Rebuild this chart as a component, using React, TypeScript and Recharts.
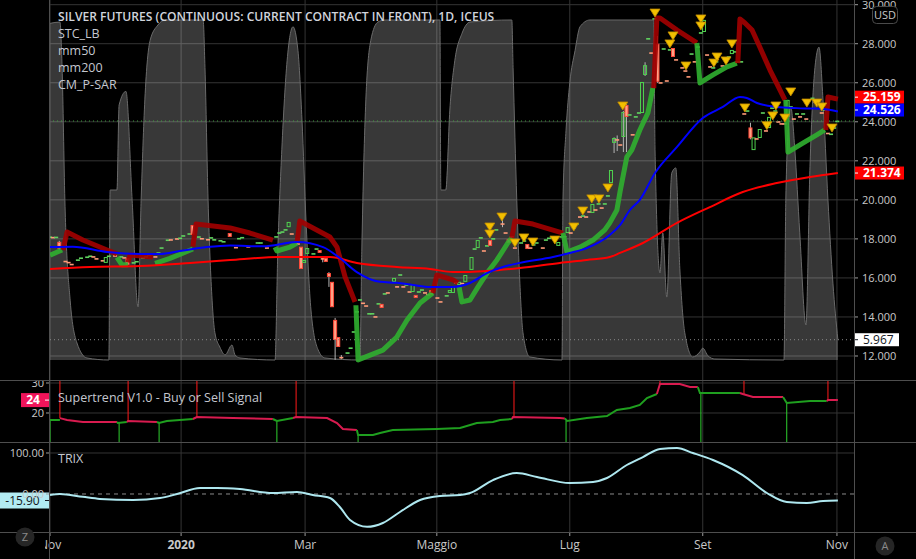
import React from 'react';
import { ComposedChart, Line, Area, Bar, XAxis, YAxis, CartesianGrid, ReferenceLine } from 'recharts';

const FONT = "'Open Sans', 'Noto Sans', sans-serif";

// x = trading-bar index counted from the first bar of November 2019
const monthTicks = [0, 42.3, 82.3, 124.8, 167.7, 210.6, 253.9];
const monthLabels = ['Nov', '2020', 'Mar', 'Maggio', 'Lug', 'Set', 'Nov'];
const priceTicks = [12, 14, 16, 18, 20, 22, 24, 26, 28, 30];
const supertrendTicks = [20, 30];
const trixTicks = [0, 100];

// [bar, open, close, high?, low?]
const candles: number[][] = [
  [0, 18.05, 18.12], [1, 18.1, 18.03], [2, 18.05, 18.1], [3, 17.85, 17.5, 17.9, 17.45], [5, 16.88, 16.8],
  [6, 16.82, 16.75], [7, 16.72, 16.65], [9, 16.88, 16.94], [10, 16.98, 17.04], [12, 17.03, 17.09],
  [13, 17.08, 17.14], [14, 17.1, 17.05], [15, 17.0, 16.95], [17, 16.9, 16.85], [18, 16.77, 17.07],
  [19, 17.08, 17.14], [21, 17.15, 17.1], [23, 17.05, 17.1], [24, 17.05, 17.0], [25, 17.02, 16.67],
  [27, 16.74, 16.8], [28, 16.8, 16.86], [30, 17.0, 17.05], [31, 17.05, 17.1], [32, 17.15, 17.2],
  [34, 17.1, 17.05], [35, 17.25, 17.3], [36, 17.5, 17.56], [38, 17.9, 17.96], [39, 17.97, 17.92],
  [41, 18.02, 17.97], [42, 18.0, 18.06], [43, 18.12, 18.18], [45, 18.22, 18.28], [46, 18.71, 18.2],
  [48, 18.07, 18.12], [49, 18.03, 17.98], [51, 17.98, 17.93], [52, 18.02, 18.08], [53, 17.92, 17.98],
  [55, 17.87, 17.93], [56, 17.82, 17.88], [58, 18.3, 18.1], [60, 17.58, 17.52], [61, 17.98, 18.04],
  [62, 18.03, 18.09], [64, 17.62, 17.56], [67, 17.76, 17.82], [68, 17.76, 17.82], [70, 17.56, 17.5],
  [73, 18.07, 18.13], [74, 18.27, 18.33], [75, 18.32, 18.38], [76, 18.43, 18.49], [77, 18.6, 18.87],
  [78, 18.28, 18.22], [80, 17.77, 17.71], [81, 17.6, 16.46], [82, 16.77, 16.92], [83, 17.23, 17.53],
  [85, 17.2, 17.26], [86, 17.45, 17.51], [87, 17.43, 17.28], [88, 17.0, 16.95, 17.05, 16.8], [89, 17.02, 16.82],
  [90, 16.25, 16.05, 16.3, 15.54], [91, 15.8, 14.5], [92, 13.85, 12.82, 13.95, 11.8], [93, 12.97, 12.46],
  [94, 11.95, 11.88, 12.05, 11.85], [96, 12.12, 12.18], [97, 12.37, 12.43], [98, 13.2, 13.26], [99, 14.23, 14.29],
  [100, 14.84, 14.9], [101, 14.73, 14.67], [102, 14.59, 14.53], [103, 14.13, 14.19], [104, 14.13, 14.19],
  [105, 14.03, 13.97], [106, 14.64, 14.7], [107, 14.67, 14.46], [108, 15.15, 15.21], [109, 15.26, 15.2],
  [111, 15.8, 16.0], [112, 15.57, 15.51], [113, 16.12, 16.18], [114, 15.57, 15.51], [115, 15.61, 15.67],
  [116, 15.31, 15.25], [117, 15.28, 15.64], [118, 15.13, 14.97], [119, 15.25, 15.31], [120, 15.35, 15.41],
  [121, 15.26, 15.2], [122, 15.16, 15.1], [123, 15.38, 15.13], [125, 15.0, 14.94], [126, 14.8, 14.74],
  [128, 15.05, 15.11], [129, 15.23, 15.38], [130, 15.23, 15.54], [131, 15.77, 15.71], [132, 15.64, 15.8],
  [133, 15.74, 15.68], [134, 15.8, 16.15], [136, 16.41, 17.07], [137, 17.45, 17.51], [138, 17.53, 17.94],
  [139, 18.02, 18.08], [140, 17.41, 17.35], [141, 17.61, 17.67], [142, 17.94, 17.64], [143, 17.97, 18.03],
  [144, 18.43, 18.49], [146, 18.78, 18.74, 19.07, 18.6], [147, 18.33, 18.27], [148, 18.0, 17.79], [149, 18.13, 18.07],
  [150, 17.56, 17.5], [152, 17.76, 17.82], [153, 17.86, 17.92], [154, 17.74, 17.48], [155, 17.56, 17.5],
  [156, 17.66, 17.72], [157, 17.76, 17.82], [159, 17.56, 17.5], [160, 17.91, 17.97], [161, 18.0, 18.06],
  [162, 18.02, 18.08], [163, 17.98, 18.04], [164, 17.64, 17.84], [165, 18.07, 18.13], [166, 18.08, 18.14],
  [167, 18.3, 18.6], [168, 18.33, 18.27], [169, 18.53, 18.59], [170, 18.73, 18.79], [171, 19.15, 19.09],
  [172, 19.14, 19.2], [173, 19.15, 19.09], [174, 19.41, 19.35], [175, 19.33, 19.79], [176, 19.51, 19.45],
  [177, 19.76, 19.82], [178, 19.61, 19.55], [179, 19.76, 19.82], [180, 20.17, 20.23], [181, 20.86, 21.53],
  [182, 22.92, 23.17, 23.2, 22.4], [183, 23.1, 23.04, 23.3, 22.5], [184, 22.84, 22.78], [185, 23.22, 24.5, 24.55, 22.45],
  [186, 24.86, 24.25, 24.9, 22.45], [187, 24.32, 24.38], [188, 23.36, 23.3], [189, 24.22, 24.28], [190, 24.42, 24.48],
  [191, 24.45, 26.04], [192, 26.4, 26.9, 27.05, 26.35], [193, 28.2, 28.3], [194, 27.55, 27.49], [195, 29.24, 29.3],
  [196, 28.0, 26.05, 28.4, 26.0], [197, 26.02, 25.96], [198, 27.7, 27.76], [199, 26.12, 26.06], [200, 27.65, 27.71],
  [201, 27.78, 27.32], [202, 27.2, 27.14], [204, 26.79, 26.73], [205, 26.63, 26.57], [206, 26.33, 26.27],
  [207, 27.44, 27.5], [208, 27.12, 27.02], [209, 27.8, 27.86], [210, 28.52, 28.58], [211, 28.6, 29.22],
  [212, 27.45, 27.39], [213, 26.84, 26.78], [214, 26.73, 26.79], [215, 27.04, 27.1], [217, 26.89, 26.83],
  [218, 27.24, 27.3], [219, 27.29, 27.35], [220, 27.47, 27.68], [221, 27.55, 27.61], [222, 27.04, 27.1],
  [223, 27.04, 27.1], [224, 24.43, 24.37], [225, 24.52, 24.58], [226, 23.71, 23.15, 23.95, 23.1], [227, 22.55, 23.2],
  [228, 23.15, 23.09], [229, 23.17, 23.63], [230, 24.42, 24.48], [231, 23.56, 23.5], [232, 23.68, 24.25],
  [233, 24.67, 24.73], [234, 24.52, 24.58], [235, 24.02, 23.96], [236, 23.92, 23.86], [237, 23.92, 23.86],
  [238, 24.25, 25.12], [239, 24.73, 24.79], [240, 24.17, 24.11], [241, 24.37, 24.43], [242, 24.28, 24.22],
  [243, 24.37, 24.43], [244, 24.17, 24.11], [246, 25.17, 25.23], [247, 25.03, 24.97], [249, 24.48, 24.42],
  [250, 24.57, 24.63], [251, 23.43, 23.37], [252, 23.33, 23.39], [253, 23.65, 23.71], [254, 24.0, 24.04],
];

const stcValues: number[][] = [
  [0, 99], [3.2, 99.4], [3.9, 86], [4.8, 47], [6.5, 17.6], [8.7, 5], [11.9, 0.6], [19.0, 0], [19.4, 50], [21.6, 50],
  [22.3, 75], [24.5, 79], [26.5, 47], [28.4, 15.6], [29.4, 47], [30.6, 76.5], [32.3, 94], [34.8, 98.5], [37.1, 100],
  [49.4, 100], [50.0, 86], [51.0, 47], [52.3, 17.6], [53.2, 8], [54.8, 3.8], [56.5, 1.5], [58.7, 4.4], [59.7, 1.5],
  [61.3, 0.6], [72.6, 0], [73.5, 32], [74.8, 62], [76.5, 88], [78.4, 98], [80.0, 91], [81.3, 70.6], [82.6, 41],
  [84.2, 14.7], [86.5, 3], [88.7, 0.6], [100.0, 0], [100.6, 32], [101.9, 76.5], [103.5, 94], [105.8, 99.4],
  [108.1, 100], [125.8, 100], [126.1, 50], [127.7, 50], [129.0, 73.5], [130.6, 88], [132.9, 96], [135.5, 99.4],
  [149.0, 100], [149.4, 86], [150.6, 47], [151.6, 22.6], [152.6, 8], [154.8, 0.9], [165.2, 0], [165.5, 47],
  [166.5, 67.6], [167.7, 81.5], [169.4, 91], [171.0, 98], [174.2, 100], [194.8, 100], [195.2, 62], [196.8, 25.6],
  [197.7, 37.4], [199.0, 18.5], [200.6, 55], [201.9, 56.5], [203.2, 27], [204.8, 8], [207.4, 0.9], [209.7, 2.4],
  [210.6, 3.5], [212.3, 1.2], [214.5, 0.3], [236.8, 0], [237.4, 47], [238.4, 70.6], [239.0, 74.4], [240.3, 62],
  [241.9, 37.4], [243.9, 10.3], [245.2, 57], [246.8, 86], [248.1, 92], [249.4, 76.5], [251.0, 47], [252.6, 22.6],
  [254.2, 5.967],
];

const mm50Values: number[][] = [
  [0, 17.58], [7.4, 17.6], [18.4, 17.33], [29.0, 17.23], [35.5, 17.23], [41.9, 17.38], [50.6, 17.58], [58.1, 17.66],
  [68.7, 17.62], [79.7, 17.84], [88.1, 17.58], [93.5, 17.02], [99.0, 16.3], [106.5, 15.8], [111.9, 15.75],
  [117.1, 15.64], [122.6, 15.54], [130.0, 15.54], [135.5, 15.74], [141.0, 16.25], [146.1, 16.56], [151.6, 16.77],
  [162.3, 17.07], [167.7, 17.28], [173.2, 17.53], [180.6, 18.2], [183.9, 18.7], [187.1, 19.48], [190.3, 20.0],
  [195.2, 21.38], [202.3, 22.71], [210.6, 24.19], [217.1, 24.76], [222.6, 25.27], [224.8, 25.22], [228.1, 24.96],
  [234.5, 24.76], [241.0, 24.7], [245.2, 24.68], [249.4, 24.66], [254.2, 24.526],
];

const mm200Values: number[][] = [
  [0, 16.46], [12.9, 16.56], [29.0, 16.61], [45.2, 16.77], [58.1, 16.92], [74.2, 17.07], [90.3, 17.07],
  [99.0, 16.77], [111.9, 16.56], [122.6, 16.46], [130.0, 16.3], [141.0, 16.36], [151.6, 16.51], [164.5, 16.77],
  [173.2, 16.92], [180.6, 17.07], [183.9, 17.28], [191.3, 17.79], [202.3, 18.82], [212.9, 19.63], [223.5, 20.4],
  [234.5, 20.86], [245.2, 21.17], [254.2, 21.374],
];

const psarSegments: { trend: 'up' | 'down'; pts: number[][] }[] = [
  { trend: 'up', pts: [[0, 17.17], [3.9, 17.43]] },
  { trend: 'down', pts: [[4.2, 17.43], [5.5, 18.35], [10.6, 17.94], [18.4, 17.43], [21.6, 17.23]] },
  { trend: 'up', pts: [[21.6, 17.05], [23.2, 16.67], [25.2, 16.67]] },
  { trend: 'down', pts: [[25.2, 16.8], [25.8, 17.17], [33.2, 17.07]] },
  { trend: 'up', pts: [[33.9, 16.75], [38.7, 17.0], [46.1, 17.48]] },
  { trend: 'down', pts: [[46.1, 17.6], [47.1, 18.76], [58.1, 18.56], [64.5, 18.3], [71.9, 17.94]] },
  { trend: 'up', pts: [[72.6, 17.58], [73.2, 17.38], [77.4, 17.58], [79.7, 17.79]] },
  { trend: 'down', pts: [[79.7, 17.79], [80.6, 18.92], [90.3, 18.1], [92.6, 17.58], [95.2, 16.05], [98.4, 14.77]] },
  { trend: 'up', pts: [[98.7, 14.6], [99.4, 11.8], [107.4, 12.3], [111.9, 12.97], [115.2, 13.84], [119.4, 14.72], [123.5, 15.23]] },
  { trend: 'down', pts: [[123.5, 15.23], [124.8, 16.15], [130.0, 15.9], [131.6, 15.74]] },
  { trend: 'up', pts: [[131.9, 15.6], [132.9, 14.77], [135.5, 14.87], [138.1, 15.54], [141.0, 16.25], [144.2, 16.92], [147.7, 17.79], [149.0, 18.05]] },
  { trend: 'down', pts: [[149.0, 18.05], [150.0, 18.92], [155.8, 18.76], [165.5, 18.3]] },
  { trend: 'up', pts: [[165.5, 18.3], [166.8, 17.33], [171.0, 17.58], [175.2, 17.94], [179.0, 18.46], [180.6, 18.82], [182.9, 19.48], [183.9, 20.4], [186.1, 22.2], [187.7, 22.55], [190.3, 23.58], [192.9, 24.45], [194.5, 25.73]] },
  { trend: 'down', pts: [[194.8, 25.73], [195.8, 29.32], [196.8, 29.32], [202.3, 28.7], [208.7, 28.04]] },
  { trend: 'up', pts: [[208.7, 28.04], [209.7, 25.99], [213.9, 26.4], [218.4, 26.81], [221.6, 27.0]] },
  { trend: 'down', pts: [[221.9, 27.0], [222.6, 29.27], [224.2, 29.06], [226.5, 28.7], [229.0, 27.83], [232.3, 26.65], [235.5, 25.63], [237.1, 25.12]] },
  { trend: 'up', pts: [[237.4, 25.12], [238.1, 22.45], [242.9, 22.91], [247.4, 23.33], [250.0, 23.58]] },
  { trend: 'down', pts: [[250.3, 23.58], [251.0, 25.27], [254.2, 25.159]] },
];

const sellMarkers: number[][] = [
  [141.9, 18.61], [141.9, 18.25], [145.8, 19.12], [150.0, 17.79], [152.9, 18.05], [155.8, 17.84], [162.9, 17.94],
  [169.0, 18.61], [171.9, 19.43], [174.8, 20.05], [177.1, 20.05], [180.0, 20.61], [184.8, 24.81], [195.2, 29.57],
  [200.0, 27.99], [201.0, 28.4], [205.2, 26.86], [210.0, 29.27], [210.0, 28.91], [214.2, 27.01], [215.2, 27.32],
  [218.1, 27.12], [220.0, 27.99], [224.2, 24.71], [231.3, 23.8], [233.2, 24.3], [234.2, 24.81], [237.1, 24.19],
  [239.0, 25.53], [244.2, 24.96], [247.4, 24.96], [249.0, 24.76], [252.3, 23.68],
];

const supertrendSegments: { trend: 'up' | 'down'; pts: number[][] }[] = [
  { trend: 'up', pts: [[0, 17.67], [3.2, 17.67]] },
  { trend: 'down', pts: [[3.2, 18.3], [5.5, 17.67], [10.6, 17.0], [21.6, 17.0]] },
  { trend: 'up', pts: [[21.6, 17.0], [21.9, 16.67], [24.8, 17.0]] },
  { trend: 'down', pts: [[24.8, 17.0], [25.2, 17.33], [34.5, 17.0]] },
  { trend: 'up', pts: [[34.5, 17.0], [35.2, 16.67], [37.7, 17.33], [41.9, 17.67], [46.1, 18.0]] },
  { trend: 'down', pts: [[46.1, 18.0], [47.4, 18.67], [59.0, 18.33], [71.9, 18.0]] },
  { trend: 'up', pts: [[71.9, 18.0], [73.2, 17.33], [78.4, 18.33]] },
  { trend: 'down', pts: [[78.4, 18.33], [79.4, 18.67], [89.4, 18.33], [92.6, 16.67], [94.5, 14.67], [99.0, 14.33]] },
  { trend: 'up', pts: [[99.0, 14.33], [99.4, 12.67], [104.2, 12.67], [106.5, 13.33], [110.6, 14.33], [124.8, 14.67], [132.3, 15.0], [137.7, 16.67], [142.9, 17.0], [145.2, 17.67], [149.0, 18.0]] },
  { trend: 'down', pts: [[149.0, 18.0], [149.4, 18.67], [164.5, 18.33], [166.1, 18.2]] },
  { trend: 'up', pts: [[166.1, 18.2], [166.8, 17.33], [173.2, 18.33], [179.7, 19.0], [182.9, 21.0], [187.1, 21.67], [190.3, 22.67], [192.6, 25.0], [195.8, 26.33]] },
  { trend: 'down', pts: [[195.8, 26.33], [196.8, 29.67], [203.2, 29.67], [206.5, 28.67], [209.0, 28.67]] },
  { trend: 'up', pts: [[209.0, 28.67], [209.7, 26.67], [222.6, 26.67]] },
  { trend: 'down', pts: [[222.6, 26.67], [223.5, 26.33], [226.8, 25.33], [236.5, 25.33]] },
  { trend: 'up', pts: [[236.5, 25.33], [237.7, 23.33], [245.2, 24.0], [250.6, 24.0]] },
  { trend: 'down', pts: [[250.6, 24.0], [251.0, 24.3], [254.2, 24.3]] },
];
const supertrendSellSpikes: number[][] = [[3.2, 18.3], [25.2, 17.33], [47.4, 18.67], [79.4, 18.67], [149.7, 18.67], [196.8, 29.67], [223.9, 26.33], [251.0, 24.3]];
const supertrendBuySpikes: number[][] = [[0, 17.67], [22.3, 16.67], [35.2, 16.67], [73.2, 17.33], [99.4, 12.67], [166.5, 17.33], [210.0, 26.67], [237.7, 23.33]];

const trixValues: number[][] = [
  [0, -2.4], [3.2, 0], [10.6, -7], [16.1, -12], [26.8, -14.6], [35.5, -10], [41.0, 0], [48.4, 14.6], [53.9, 14.6],
  [61.3, 12], [71.9, 2.4], [79.7, 4.9], [84.8, -2.4], [90.3, -9.8], [93.5, -31.7], [96.8, -63.4], [102.3, -80],
  [107.4, -70.7], [112.9, -43.9], [119.4, -14.6], [125.8, -4.9], [132.3, -2.4], [135.5, 2.4], [142.9, 34],
  [150.6, 51], [157.1, 41.5], [167.7, 26.8], [175.2, 29.3], [179.7, 39], [186.1, 70.7], [191.3, 90], [196.8, 109.8],
  [202.3, 112], [207.4, 100], [213.9, 82.9], [223.5, 46], [231.3, 2.4], [237.7, -19.5], [244.2, -22], [249.4, -17],
  [254.2, -15.9],
];

// ---------- derived ----------
const toPts = (arr: number[][]) => arr.map(([x, v]) => ({ x, v }));
const candleRows = candles.map(([x, o, c, h, l]) => ({
  x, o, c, h: h ?? Math.max(o, c), l: l ?? Math.min(o, c),
}));
const last = (arr: number[][]) => arr[arr.length - 1][1];
const lastClose = candleRows[candleRows.length - 1].c;
const lastPsar = psarSegments[psarSegments.length - 1].pts.slice(-1)[0][1];
const lastSuper = supertrendSegments[supertrendSegments.length - 1].pts.slice(-1)[0][1];

const X_DOMAIN: [number, number] = [0, 259.4];
const PRICE_DOMAIN: [number, number] = [10.77, 30.24];
const STC_DOMAIN: [number, number] = [-5.88, 105.88];
const SUPER_DOMAIN: [number, number] = [10.33, 31];
const TRIX_DOMAIN: [number, number] = [-92.7, 126.8];

const GRID = '#343434';
const AXIS_TEXT = '#c8c8c8';
const UP = '#30b030';
const DOWN = '#a30000';

const CandleShape = (props: any) => {
  const { x, y, width, height, payload } = props;
  if (payload == null || !isFinite(y) || !isFinite(height)) return <g />;
  const { o, c, h, l } = payload;
  const k = h - l > 0 ? height / (h - l) : 0;
  const cx = x + width / 2;
  const top = y + (h - Math.max(o, c)) * k;
  const bot = y + (h - Math.min(o, c)) * k;
  const up = c >= o;
  const bh = bot - top;
  const hasWick = h > Math.max(o, c) + 0.005 || l < Math.min(o, c) - 0.005;
  return (
    <g>
      {hasWick && <line x1={cx} x2={cx} y1={y} y2={y + height} stroke="#b4b4b4" strokeWidth={1} />}
      {bh < 2.5 ? (
        <rect x={cx - 2} y={(top + bot) / 2 - 0.8} width={4} height={1.6} fill={up ? '#5fd35f' : '#ff9a78'} />
      ) : (
        <rect x={cx - 1.5} y={top + 0.5} width={3} height={bh - 1} fill={up ? 'none' : '#ffa286'}
          stroke={up ? '#4fd24f' : '#ff4a3a'} strokeWidth={1} />
      )}
    </g>
  );
};

const TriangleDot = (props: any) => {
  const { cx, cy, index } = props;
  if (!isFinite(cx) || !isFinite(cy)) return <g key={'t' + index} />;
  return (
    <polygon key={'t' + index} points={`${cx - 5},${cy - 4} ${cx + 5},${cy - 4} ${cx},${cy + 4}`}
      fill="#f2bf00" stroke="#c08a00" strokeWidth={0.8} />
  );
};

const RightTag = (props: any) => {
  const { viewBox, text, bg, fg, bold, w = 50, shift = 0 } = props;
  if (!viewBox) return null;
  const xr = viewBox.x + viewBox.width;
  const y = viewBox.y + shift;
  return (
    <g>
      <rect x={xr} y={y - 6.5} width={w} height={13} fill={bg} />
      <line x1={xr} x2={xr + 4} y1={y} y2={y} stroke={fg} strokeWidth={1} />
      <text x={xr + 9} y={y + 4.2} fill={fg} fontSize={12} fontWeight={bold ? 700 : 400} fontFamily={FONT}>{text}</text>
    </g>
  );
};

const LeftTag = (props: any) => {
  const { viewBox, text, bg, fg, w, h, bold } = props;
  if (!viewBox) return null;
  const xl = viewBox.x;
  const y = viewBox.y;
  return (
    <g>
      <rect x={xl - w - 1} y={y - h / 2} width={w} height={h} fill={bg} />
      <line x1={xl - 5} x2={xl - 1} y1={y} y2={y} stroke={fg} strokeWidth={1} />
      <text x={xl - 1 - w / 2 - 2} y={y + 4.2} textAnchor="middle" fill={fg} fontSize={12}
        fontWeight={bold ? 700 : 400} fontFamily={FONT}>{text}</text>
    </g>
  );
};

const MonthTick = (props: any) => {
  const { x, y, payload } = props;
  const i = monthTicks.indexOf(payload.value);
  const label = monthLabels[i] ?? '';
  return (
    <text x={x} y={y + 11} textAnchor="middle" fill={AXIS_TEXT} fontSize={12}
      fontWeight={label === '2020' ? 700 : 400} fontFamily={FONT}>{label}</text>
  );
};

const fmt3 = (v: number) => v.toFixed(3);
const fmt2 = (v: number) => v.toFixed(2);

export default function App() {
  return (
    <div style={{ position: 'absolute', left: 0, top: 0, width: 916, height: 559, background: '#000', overflow: 'hidden', fontFamily: FONT }}>
      {/* main pane */}
      <div style={{ position: 'absolute', left: 0, top: 0 }}>
        <ComposedChart width={916} height={380} data={candleRows} margin={{ top: 0, right: 0, bottom: 0, left: 50 }}>
          <CartesianGrid stroke={GRID} yAxisId="price" verticalValues={monthTicks} horizontalValues={priceTicks} />
          <XAxis dataKey="x" type="number" domain={X_DOMAIN} allowDataOverflow ticks={monthTicks} hide />
          <YAxis yAxisId="price" orientation="right" width={62} domain={PRICE_DOMAIN} allowDataOverflow ticks={priceTicks}
            interval={0} tickFormatter={fmt3} axisLine={false} tickSize={4} tickMargin={4}
            tickLine={{ stroke: '#9a9a9a' }} tick={{ fill: AXIS_TEXT, fontSize: 11, fontFamily: FONT }} />
          <YAxis yAxisId="stc" hide domain={STC_DOMAIN} allowDataOverflow />
          <Area yAxisId="stc" data={toPts(stcValues)} dataKey="v" type="monotone" baseValue={0}
            fill="#ffffff" fillOpacity={0.22} stroke="#6a6a6a" strokeWidth={1} isAnimationActive={false} dot={false} activeDot={false} />
          <ReferenceLine yAxisId="stc" y={last(stcValues)} stroke="#8a8a8a" strokeDasharray="1 3"
            label={<RightTag text={last(stcValues).toFixed(3)} bg="#ffffff" fg="#131722" w={45} />} />
          <ReferenceLine yAxisId="price" y={lastClose} stroke="#3fa03f" strokeDasharray="1 3" />
          <Bar yAxisId="price" dataKey={(d: any) => [d.l, d.h]} barSize={3} shape={<CandleShape />} isAnimationActive={false} />
          {psarSegments.map((s, i) => (
            <Line key={'psar' + i} yAxisId="price" data={toPts(s.pts)} dataKey="v" type="linear"
              stroke={s.trend === 'up' ? UP : DOWN} strokeWidth={5} strokeOpacity={0.9} strokeLinejoin="round"
              dot={false} activeDot={false} isAnimationActive={false} />
          ))}
          <Line yAxisId="price" data={toPts(mm200Values)} dataKey="v" type="monotone" stroke="#ff0000" strokeWidth={2}
            dot={false} activeDot={false} isAnimationActive={false} />
          <Line yAxisId="price" data={toPts(mm50Values)} dataKey="v" type="monotone" stroke="#0000ff" strokeWidth={2}
            dot={false} activeDot={false} isAnimationActive={false} />
          <Line yAxisId="price" data={toPts(sellMarkers)} dataKey="v" stroke="none" strokeWidth={0}
            dot={TriangleDot} activeDot={false} isAnimationActive={false} />
          <ReferenceLine yAxisId="price" y={lastPsar} stroke="none"
            label={<RightTag text={lastPsar.toFixed(3)} bg="#ff0000" fg="#ffffff" bold shift={-2} />} />
          <ReferenceLine yAxisId="price" y={last(mm50Values)} stroke="none"
            label={<RightTag text={last(mm50Values).toFixed(3)} bg="#0000ff" fg="#ffffff" bold shift={-1.5} />} />
          <ReferenceLine yAxisId="price" y={last(mm200Values)} stroke="none"
            label={<RightTag text={last(mm200Values).toFixed(3)} bg="#ff0000" fg="#ffffff" bold />} />
        </ComposedChart>
      </div>

      {/* supertrend pane */}
      <div style={{ position: 'absolute', left: 0, top: 380 }}>
        <ComposedChart width={916} height={62} margin={{ top: 0, right: 62, bottom: 0, left: 0 }}>
          <CartesianGrid stroke={GRID} verticalValues={monthTicks} horizontalValues={supertrendTicks} />
          <XAxis dataKey="x" type="number" domain={X_DOMAIN} allowDataOverflow ticks={monthTicks} hide />
          <YAxis orientation="left" width={50} domain={SUPER_DOMAIN} allowDataOverflow ticks={supertrendTicks} interval={0}
            axisLine={false} tickSize={4} tickMargin={2} tickLine={{ stroke: '#9a9a9a' }}
            tick={{ fill: AXIS_TEXT, fontSize: 11, fontFamily: FONT }} />
          {supertrendSellSpikes.map(([x, v], i) => (
            <ReferenceLine key={'ss' + i} segment={[{ x, y: SUPER_DOMAIN[1] }, { x, y: v }]} stroke="#ff1a1a" strokeWidth={1} ifOverflow="visible" />
          ))}
          {supertrendBuySpikes.map(([x, v], i) => (
            <ReferenceLine key={'sb' + i} segment={[{ x, y: v }, { x, y: SUPER_DOMAIN[0] }]} stroke="#2fd02f" strokeWidth={1} ifOverflow="visible" />
          ))}
          {supertrendSegments.map((s, i) => (
            <Line key={'st' + i} data={toPts(s.pts)} dataKey="v" type="linear"
              stroke={s.trend === 'up' ? '#1f9f1f' : '#d81b4f'} strokeWidth={2}
              dot={false} activeDot={false} isAnimationActive={false} />
          ))}
          <ReferenceLine y={lastSuper} stroke="none"
            label={<LeftTag text={lastSuper.toFixed(0)} bg="#f0145a" fg="#ffffff" w={28} h={14} bold />} />
        </ComposedChart>
      </div>

      {/* TRIX pane + time axis */}
      <div style={{ position: 'absolute', left: 0, top: 442 }}>
        <ComposedChart width={916} height={117} margin={{ top: 0, right: 62, bottom: 0, left: 0 }}>
          <CartesianGrid stroke={GRID} verticalValues={monthTicks} horizontalValues={[100]} />
          <XAxis dataKey="x" type="number" domain={X_DOMAIN} allowDataOverflow ticks={monthTicks} interval={0}
            height={27} axisLine={false} tickSize={4} tickMargin={2} tickLine={{ stroke: '#9a9a9a' }} tick={<MonthTick />} />
          <YAxis orientation="left" width={50} domain={TRIX_DOMAIN} allowDataOverflow ticks={trixTicks} interval={0}
            tickFormatter={fmt2} axisLine={false} tickSize={4} tickMargin={2} tickLine={{ stroke: '#9a9a9a' }}
            tick={{ fill: AXIS_TEXT, fontSize: 11, fontFamily: FONT }} />
          <ReferenceLine y={0} stroke="#8a8a8a" strokeDasharray="4 4" />
          <Line data={toPts(trixValues)} dataKey="v" type="monotone" stroke="#aee7ef" strokeWidth={2}
            dot={false} activeDot={false} isAnimationActive={false} />
          <ReferenceLine y={last(trixValues)} stroke="none"
            label={<LeftTag text={last(trixValues).toFixed(2)} bg="#b2ebf2" fg="#131722" w={49} h={16} />} />
        </ComposedChart>
      </div>

      {/* decorations: pane borders, legends */}
      <svg width={916} height={559} style={{ position: 'absolute', left: 0, top: 0, pointerEvents: 'none' }}>
        <rect x={0} y={533} width={45} height={26} fill="#000" />
        <line x1={0} x2={916} y1={380.5} y2={380.5} stroke="#4e4e4e" />
        <line x1={0} x2={916} y1={442.5} y2={442.5} stroke="#4e4e4e" />
        <line x1={0} x2={916} y1={532.5} y2={532.5} stroke="#4e4e4e" />
        <line x1={49.5} x2={49.5} y1={0} y2={559} stroke="#4e4e4e" />
        <line x1={854.5} x2={854.5} y1={0} y2={559} stroke="#4e4e4e" />
        <text x={58} y={21} fill="#d1d4dc" fontSize={12.1} fontWeight={600} fontFamily={FONT}>
          SILVER FUTURES (CONTINUOUS: CURRENT CONTRACT IN FRONT), 1D, ICEUS
        </text>
        <text x={58} y={38} fill="#c4c7cf" fontSize={12.5} fontFamily={FONT}>STC_LB</text>
        <text x={58} y={55} fill="#c4c7cf" fontSize={12.5} fontFamily={FONT}>mm50</text>
        <text x={58} y={72} fill="#c4c7cf" fontSize={12.5} fontFamily={FONT}>mm200</text>
        <text x={58} y={89} fill="#c4c7cf" fontSize={12.5} fontFamily={FONT}>CM_P-SAR</text>
        <text x={58} y={402} fill="#c4c7cf" fontSize={12.5} fontFamily={FONT}>Supertrend V1.0 - Buy or Sell Signal</text>
        <text x={58} y={463} fill="#c4c7cf" fontSize={12.5} fontFamily={FONT}>TRIX</text>
        <rect x={872.5} y={6.5} width={25} height={17} rx={4} fill="#000" stroke="#4a4a4a" />
        <text x={885} y={19} textAnchor="middle" fill="#c8c8c8" fontSize={11} fontFamily={FONT}>USD</text>
        <circle cx={25} cy={537} r={9.5} fill="#262626" />
        <text x={25} y={541} textAnchor="middle" fill="#8a8a8a" fontSize={11} fontFamily={FONT}>Z</text>
        <circle cx={885} cy={546} r={9.5} fill="#262626" />
        <text x={885} y={550} textAnchor="middle" fill="#8a8a8a" fontSize={11} fontFamily={FONT}>A</text>
      </svg>
    </div>
  );
}
